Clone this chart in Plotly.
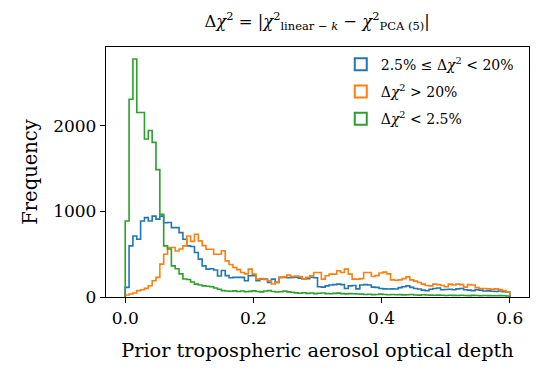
import numpy as np
import plotly.graph_objects as go

# Bin setup: 100 bins spanning 0 to 0.6
bin_start = 0.0
bin_end = 0.6
n_bins = 100

# Counts per bin
mid_counts = [  # 2.5% <= dchi2 < 20%
    113, 597, 713, 674, 887, 927, 887, 945, 910, 945,
    868, 870, 810, 810, 752, 674, 597, 590, 519, 442,
    364, 326, 330, 315, 245, 310, 250, 225,
    229, 229, 229, 190, 248, 248, 190, 209, 209, 171,
    209, 171, 229, 229, 225, 229, 230, 220, 209, 215,
    230, 225, 120, 115, 130, 140, 145, 150, 145, 100,
    130, 135, 95, 140, 145, 140, 115,
    113, 100, 95, 93, 95, 93, 110, 120, 130, 113,
    100, 93, 80, 73, 90, 100, 105, 85, 88,
    90, 85, 95, 100, 85, 80, 75, 85, 80, 70,
    72, 68, 65, 70, 62, 60,
]
high_counts = [  # dchi2 > 20%
    23, 35, 46, 74, 85, 101, 132, 190, 229, 384,
    500, 578, 578, 538, 560, 597, 713, 650, 733, 655,
    600, 558, 558, 500, 500, 540, 422, 380, 345, 320,
    287, 270, 326, 267, 209, 215, 205, 190, 151, 171,
    229, 235, 256, 240, 245, 240, 209, 229,
    248, 287, 287, 209, 248, 267, 267, 306, 287, 326,
    267, 209, 209, 215, 287, 287, 240,
    250, 280, 290, 270, 200, 195, 200, 215, 235, 200,
    185, 170, 150, 135, 130, 150, 145, 135, 120,
    150, 140, 150, 145, 115, 145, 140, 110, 100, 100,
    95, 90, 95, 88, 75, 62,
]
low_counts = [  # dchi2 < 2.5%
    887, 2310, 2780, 2155, 2155, 1845, 1945, 1806, 1488, 965,
    597, 560, 364, 330, 270, 210, 205, 175, 150, 140,
    130, 125, 120, 105, 90, 75, 70, 68, 72, 65,
    70, 62, 66, 72, 64, 60, 70, 74, 65, 58, 62, 70, 60, 55,
    48, 44, 50, 42, 46, 40, 44, 47, 40, 38, 42, 45, 40, 36, 40, 38, 35,
    34, 30, 32, 28, 30, 33, 29, 27, 30, 26, 28, 25, 27, 30, 24, 22, 26, 24, 22, 20,
    22, 20, 18, 21, 19, 17, 20, 18, 16, 19, 17, 15, 18, 16, 15, 14, 16, 14, 12,
]

series_names = [
    "2.5% \u2264 \u0394<i>\u03c7</i><sup>2</sup> &lt; 20%",
    "\u0394<i>\u03c7</i><sup>2</sup> &gt; 20%",
    "\u0394<i>\u03c7</i><sup>2</sup> &lt; 2.5%",
]
series_colors = ["#1f77b4", "#ff7f0e", "#2ca02c"]
series_counts = [mid_counts, high_counts, low_counts]

x_tick_vals = [0.0, 0.2, 0.4, 0.6]
x_tick_text = ["0.0", "0.2", "0.4", "0.6"]
y_tick_vals = [0, 1000, 2000]
y_tick_text = ["0", "1000", "2000"]

edges = np.linspace(bin_start, bin_end, n_bins + 1)

FONT = "DejaVu Serif"
fig = go.Figure()

for name, color, counts in zip(series_names, series_colors, series_counts):
    c = np.asarray(counts, dtype=float)
    xs = np.concatenate([[edges[0]], edges[:-1], [edges[-1]]])
    ys = np.concatenate([[0.0], c, [0.0]])
    fig.add_trace(go.Scatter(
        x=xs, y=ys, mode="lines", line=dict(color=color, width=1.6, shape="hv"),
        showlegend=False, hoverinfo="skip",
    ))

for i, (name, color) in enumerate(zip(series_names, series_colors)):
    fig.add_trace(go.Bar(
        x=[None], y=[None], name=name, legendgroup=f"g{i}",
        marker=dict(color="rgba(0,0,0,0)", line=dict(color=color, width=2)),
    ))

fig.update_layout(
    width=550, height=379,
    margin=dict(l=98, r=29, t=39, b=90, autoexpand=False),
    paper_bgcolor="white", plot_bgcolor="white",
    font=dict(family=FONT, size=16, color="black"),
    title=dict(
        text="\u0394<i>\u03c7</i><sup>2</sup> = |<i>\u03c7</i><sup>2</sup><sub>linear \u2212 <i>k</i></sub> \u2212 <i>\u03c7</i><sup>2</sup><sub>PCA (5)</sub>|",
        x=0.562, xanchor="center", y=0.966, yanchor="middle",
        font=dict(family=FONT, size=16.4, color="black"),
        automargin=False,
    ),
    legend=dict(
        x=0.555, y=0.993, xanchor="left", yanchor="top",
        bgcolor="rgba(0,0,0,0)", font=dict(family=FONT, size=14),
        tracegroupgap=6,
    ),
    showlegend=True,
)
fig.update_xaxes(
    range=[-0.03, 0.63], tickvals=x_tick_vals, ticktext=x_tick_text,
    showgrid=False, zeroline=False, showline=True, mirror=True,
    linecolor="black", linewidth=1.3, ticks="outside", ticklen=5, tickwidth=1.3,
    tickcolor="black", tickfont=dict(size=17), automargin=False,
    title=dict(text="Prior tropospheric aerosol optical depth", font=dict(size=19.3), standoff=16),
)
fig.update_yaxes(
    range=[0, 2920], tickvals=y_tick_vals, ticktext=y_tick_text,
    showgrid=False, zeroline=False, showline=True, mirror=True,
    linecolor="black", linewidth=1.3, ticks="outside", ticklen=5, tickwidth=1.3,
    tickcolor="black", tickfont=dict(size=17), automargin=False,
    title=dict(text="Frequency", font=dict(size=19.5), standoff=10),
)

fig.write_html("out.html")
